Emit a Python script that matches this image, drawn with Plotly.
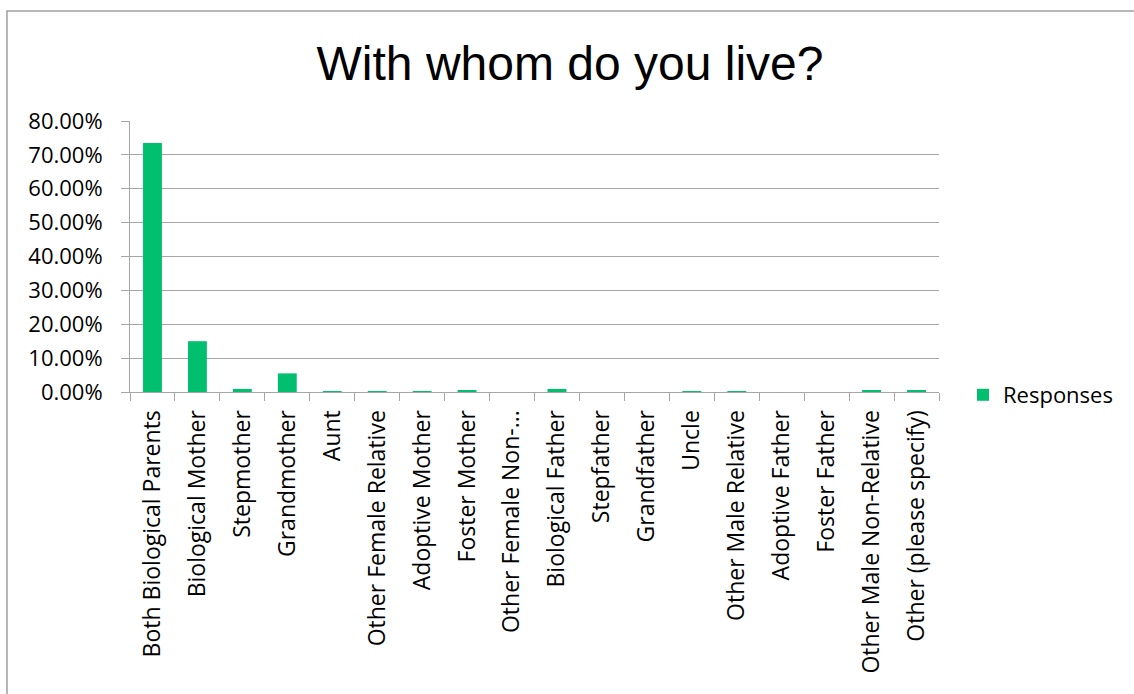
import plotly.graph_objects as go

categories = ["Both Biological Parents", "Biological Mother", "Stepmother", "Grandmother",
              "Aunt", "Other Female Relative", "Adoptive Mother", "Foster Mother",
              "Other Female Non-...", "Biological Father", "Stepfather", "Grandfather",
              "Uncle", "Other Male Relative", "Adoptive Father", "Foster Father",
              "Other Male Non-Relative", "Other (please specify)"]
responses = [0.735, 0.150, 0.009, 0.055, 0.002, 0.002, 0.002, 0.003, 0.0, 0.009,
             0.0, 0.0, 0.002, 0.002, 0.0, 0.0, 0.003, 0.003]
y_ticks = [0, 0.1, 0.2, 0.3, 0.4, 0.5, 0.6, 0.7, 0.8]

W, H = 1134, 694
L, R, T, B = 130, 195, 121, 302
pw, ph = W - L - R, H - T - B

fig = go.Figure(go.Bar(x=categories, y=responses, name="Responses",
                       marker=dict(color="#00BF6F", line=dict(width=0)),
                       showlegend=True))

fig.update_layout(
    width=W, height=H,
    margin=dict(l=L, r=R, t=T, b=B, autoexpand=False),
    paper_bgcolor="white", plot_bgcolor="white",
    bargap=0.58,
    title=dict(text="With whom do you live?", x=(570 - L) / pw, xref="paper", xanchor="center",
               y=1 - 63 / H, yanchor="middle",
               font=dict(family="Liberation Sans, Arial", size=48, color="black")),
    font=dict(family="Open Sans", color="black"),
    showlegend=True,
    legend=dict(x=(963 - L) / pw, y=(392 - 395) / ph, xanchor="left", yanchor="middle",
                font=dict(family="Open Sans", size=22, color="black"), bgcolor="rgba(0,0,0,0)",
                itemwidth=30),
    xaxis=dict(type="category", tickangle=-90, tickfont=dict(family="Open Sans", size=23, color="black"),
               showline=True, linecolor="#a6a6a6", linewidth=1,
               ticks="outside", tickson="boundaries", ticklen=8, tickcolor="#a6a6a6",
               ticklabelstandoff=8,
               showgrid=False, fixedrange=True),
    yaxis=dict(range=[0, 0.8], tickvals=y_ticks, tickformat=".2%",
               tickfont=dict(family="Open Sans", size=22, color="black"),
               showline=True, linecolor="#a6a6a6", linewidth=1,
               ticks="outside", ticklen=8, tickcolor="#a6a6a6",
               ticklabelstandoff=14,
               showgrid=True, gridcolor="#a6a6a6", gridwidth=1, zeroline=False),
    shapes=[dict(type="rect", xref="paper", yref="paper",
                 x0=(7 - L) / pw, x1=(1140 - L) / pw,
                 y0=(H - B - 700) / ph, y1=(H - B - 11) / ph,
                 line=dict(color="#a0a0a0", width=1.5), fillcolor="rgba(0,0,0,0)", layer="below")],
)

fig.write_html("out.html")
